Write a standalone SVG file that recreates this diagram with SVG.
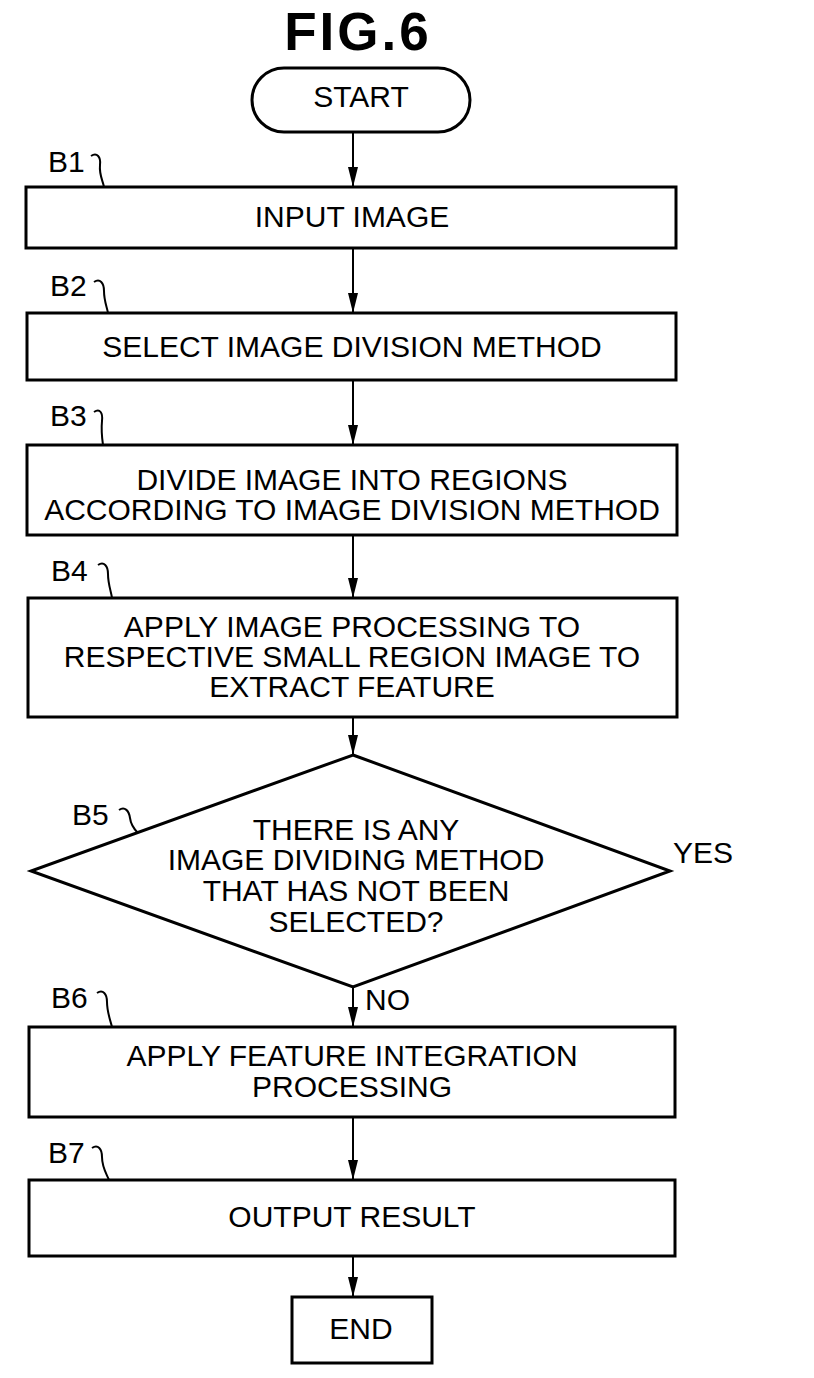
<svg xmlns="http://www.w3.org/2000/svg" width="814" height="1378" viewBox="0 0 814 1378">
<style>
  .box { fill: #fff; stroke: #000; stroke-width: 3; }
  .t { font-family: "Liberation Sans", Arial, sans-serif; font-size: 30px; fill: #000; text-anchor: middle; }
  .lbl { font-family: "Liberation Sans", Arial, sans-serif; font-size: 30px; fill: #000; }
  .lead { fill: none; stroke: #000; stroke-width: 2; }
  .conn { stroke: #000; stroke-width: 2; fill: none; marker-end: url(#arr); }
</style>
<defs>
  <marker id="arr" markerWidth="20" markerHeight="10" refX="20" refY="5" orient="auto" markerUnits="userSpaceOnUse" viewBox="0 0 20 10">
    <path d="M0,0 L20,5 L0,10 Z" fill="#000"/>
  </marker>
</defs>
<rect width="814" height="1378" fill="#fff"/>
<text x="358" y="50" font-family="Liberation Sans, Arial, sans-serif" font-weight="bold" font-size="53" text-anchor="middle" letter-spacing="3">FIG.6</text>

<g id="connectors">
  <line class="conn" x1="353" y1="132" x2="353" y2="187"/>
  <line class="conn" x1="353" y1="248" x2="353" y2="313"/>
  <line class="conn" x1="353" y1="380" x2="353" y2="445"/>
  <line class="conn" x1="353" y1="535" x2="353" y2="598"/>
  <line class="conn" x1="353" y1="717" x2="353" y2="755"/>
  <line class="conn" x1="353" y1="987" x2="353" y2="1027"/>
  <line class="conn" x1="353" y1="1117" x2="353" y2="1180"/>
  <line class="conn" x1="353" y1="1256" x2="353" y2="1297"/>
  <text class="lbl" x="365" y="1010" font-size="26">NO</text>
  <text class="lbl" x="673" y="863" font-size="27">YES</text>
</g>

<g id="start">
  <rect class="box" x="252" y="68" width="218" height="64" rx="32" ry="32"/>
  <text class="t" x="361" y="107">START</text>
</g>

<g id="B1">
  <text class="lbl" x="48" y="172">B1</text>
  <path class="lead" d="M91 156 C97 152 101 157 100 165 C99 175 103 181 104 187"/>
  <rect class="box" x="26" y="187" width="650" height="61"/>
  <text class="t" x="352" y="227">INPUT IMAGE</text>
</g>

<g id="B2">
  <text class="lbl" x="50" y="296">B2</text>
  <path class="lead" d="M94 282 C100 278 104 283 104 291 C104 301 107 307 108 313"/>
  <rect class="box" x="27" y="313" width="649" height="67"/>
  <text class="t" x="352" y="357">SELECT IMAGE DIVISION METHOD</text>
</g>

<g id="B3">
  <text class="lbl" x="50" y="426">B3</text>
  <path class="lead" d="M94 412 C100 408 103 413 102 421 C101 431 102 438 103 445"/>
  <rect class="box" x="27" y="445" width="650" height="90"/>
  <text class="t" x="352" y="490">DIVIDE IMAGE INTO REGIONS</text>
  <text class="t" x="352" y="520">ACCORDING TO IMAGE DIVISION METHOD</text>
</g>

<g id="B4">
  <text class="lbl" x="51" y="581">B4</text>
  <path class="lead" d="M98 565 C104 561 108 566 108 574 C108 584 111 591 112 598"/>
  <rect class="box" x="28" y="598" width="649" height="119"/>
  <text class="t" x="352" y="637">APPLY IMAGE PROCESSING TO</text>
  <text class="t" x="352" y="667">RESPECTIVE SMALL REGION IMAGE TO</text>
  <text class="t" x="352" y="697">EXTRACT FEATURE</text>
</g>

<g id="B5">
  <text class="lbl" x="72" y="825">B5</text>
  <path class="lead" d="M119 810 C125 806 129 811 130 818 C131 826 135 830 138 833"/>
  <polygon class="box" points="353,755 670,871 353,987 31,871" stroke-linejoin="miter"/>
  <text class="t" x="356" y="840">THERE IS ANY</text>
  <text class="t" x="356" y="870">IMAGE DIVIDING METHOD</text>
  <text class="t" x="356" y="901">THAT HAS NOT BEEN</text>
  <text class="t" x="356" y="932">SELECTED?</text>
</g>

<g id="B6">
  <text class="lbl" x="51" y="1008">B6</text>
  <path class="lead" d="M97 993 C103 989 107 994 107 1002 C107 1012 110 1019 112 1027"/>
  <rect class="box" x="29" y="1027" width="646" height="90"/>
  <text class="t" x="352" y="1066">APPLY FEATURE INTEGRATION</text>
  <text class="t" x="352" y="1097">PROCESSING</text>
</g>

<g id="B7">
  <text class="lbl" x="48" y="1163">B7</text>
  <path class="lead" d="M92 1148 C98 1144 102 1149 102 1157 C102 1167 106 1173 109 1180"/>
  <rect class="box" x="29" y="1180" width="646" height="76"/>
  <text class="t" x="352" y="1227">OUTPUT RESULT</text>
</g>

<g id="end">
  <rect class="box" x="292" y="1297" width="140" height="66"/>
  <text class="t" x="361" y="1339">END</text>
</g>
</svg>
